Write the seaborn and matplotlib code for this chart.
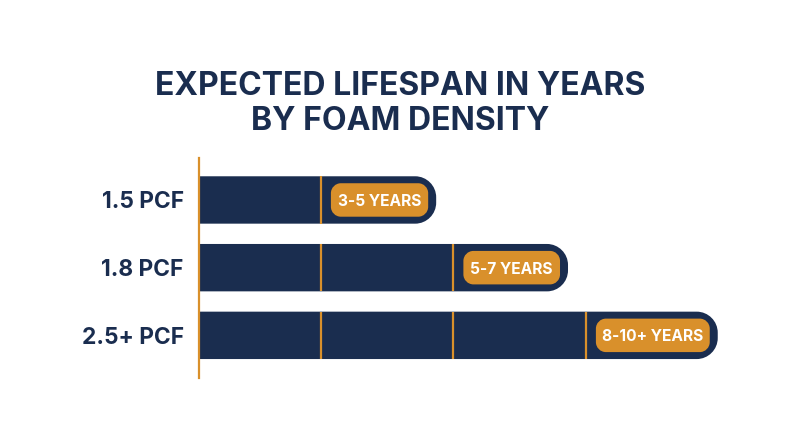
import matplotlib
matplotlib.use("Agg")
import matplotlib.pyplot as plt
import seaborn as sns
import pandas as pd
from matplotlib.path import Path
from matplotlib.patches import PathPatch

categories = ["1.5 PCF", "1.8 PCF", "2.5+ PCF"]
bar_lengths = [3.58, 5.57, 7.83]
range_labels = ["3-5 YEARS", "5-7 YEARS", "8-10+ YEARS"]
separators = [1.84, 3.84, 5.84]
title = "EXPECTED LIFESPAN IN YEARS\nBY FOAM DENSITY"

NAVY = "#1A2D4F"
GOLD = "#D9902B"
FONT = "Inter"

sns.set_theme(style="white")
plt.rcParams["font.family"] = [FONT, "DejaVu Sans"]

W, H = 800, 447
fig = plt.figure(figsize=(W / 100, H / 100), dpi=100, facecolor="white")
ax = fig.add_axes([199 / W, 1 - 378 / H, (W - 199) / W, 220 / H])

df = pd.DataFrame({"density": categories, "length": bar_lengths})
sns.barplot(data=df, x="length", y="density", color=NAVY, saturation=1,
            width=0.70, ax=ax)

ax.set_xlim(0, (W - 199) / 66.25)
ax.set_ylim(2.63, -0.62)
px_x = 66.25
px_y = 67.75


def rounded(x0, x1, y0, y1, r_left, r_right):
    """Rectangle path; radii in pixels, converted to data units."""
    lx, ly = r_left / px_x, r_left / px_y
    rx, ry = r_right / px_x, r_right / px_y
    k = 0.45
    verts = [
        (x0 + lx, y0), (x1 - rx, y0),
        (x1 - rx * k, y0), (x1, y0 + ry * k), (x1, y0 + ry),
        (x1, y1 - ry),
        (x1, y1 - ry * k), (x1 - rx * k, y1), (x1 - rx, y1),
        (x0 + lx, y1),
        (x0 + lx * k, y1), (x0, y1 - ly * k), (x0, y1 - ly),
        (x0, y0 + ly),
        (x0, y0 + ly * k), (x0 + lx * k, y0), (x0 + lx, y0),
    ]
    codes = [Path.MOVETO, Path.LINETO,
             Path.CURVE4, Path.CURVE4, Path.CURVE4,
             Path.LINETO,
             Path.CURVE4, Path.CURVE4, Path.CURVE4,
             Path.LINETO,
             Path.CURVE4, Path.CURVE4, Path.CURVE4,
             Path.LINETO,
             Path.CURVE4, Path.CURVE4, Path.CURVE4]
    return Path(verts, codes)


# Turn seaborn's bars into bars with a rounded right end
for i, bar in enumerate(list(ax.patches)):
    x0, x1 = bar.get_x(), bar.get_x() + bar.get_width()
    y0, y1 = bar.get_y(), bar.get_y() + bar.get_height()
    bar.set_visible(False)
    ax.add_patch(PathPatch(rounded(x0, x1, y0, y1, 0.001, 21),
                           facecolor=NAVY, edgecolor="none", zorder=2))
    # separators inside this bar
    seps = separators[: i + 1]
    for s in seps:
        ax.plot([s, s], [y0, y1], color=GOLD, lw=1.6, zorder=3,
                solid_capstyle="butt")
    # label pill between last separator and the bar end
    p0 = seps[-1] + 10 / px_x
    p1 = x1 - 8 / px_x
    h = 33.5 / px_y / 2
    ax.add_patch(PathPatch(rounded(p0, p1, i - h, i + h, 10, 10),
                           facecolor=GOLD, edgecolor="none", zorder=4))
    ax.text((p0 + p1) / 2, i, range_labels[i], color="white", ha="center",
            va="center_baseline", fontsize=11.2, fontweight="bold", zorder=5)

ax.set_xlabel("")
ax.set_ylabel("")
ax.set_xticks([])
ax.tick_params(axis="y", length=0, pad=11, labelcolor=NAVY)
for lab in ax.get_yticklabels():
    lab.set_fontsize(16.4)
    lab.set_fontweight("bold")

for side in ["top", "right", "bottom"]:
    ax.spines[side].set_visible(False)
ax.spines["left"].set_color(GOLD)
ax.spines["left"].set_linewidth(1.6)
ax.patch.set_alpha(0)

fig.text(0.5, 1 - 104 / H, title, color=NAVY, ha="center", va="center",
         fontsize=23, fontweight="bold", linespacing=1.2)

fig.savefig("out.png", dpi=100, facecolor="white")
